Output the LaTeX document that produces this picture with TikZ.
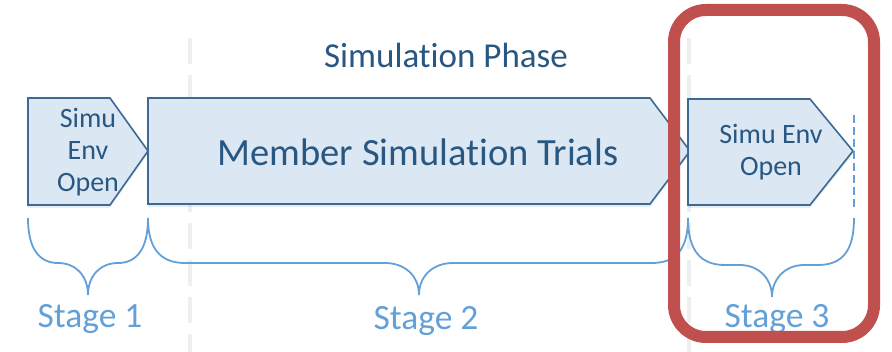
\documentclass[tikz,border=0pt]{standalone}
\usepackage{fontspec}
\setmainfont[Ligatures={NoCommon,NoContextual}]{Carlito}
\usetikzlibrary{shadows}
\definecolor{boxfill}{HTML}{DCE7F4}
\definecolor{boxline}{HTML}{3D6993}
\definecolor{boxtext}{HTML}{285781}
\definecolor{stageblue}{HTML}{64A0D8}
\definecolor{redframe}{HTML}{C0504D}
\definecolor{guidegray}{HTML}{EEEFF2}
\tikzset{
  stepbox/.style={fill=boxfill, draw=boxline, line width=1.6pt, line join=miter,
    drop shadow={shadow xshift=0pt, shadow yshift=-3pt, opacity=0.12, fill=boxline}},
  bracepath/.style={draw=stageblue, line width=1.8pt},
  stagelabel/.style={text=stageblue, font=\fontsize{35.5}{38}\selectfont, anchor=base},
  boxlabel/.style={text=boxtext, align=center, font=\fontsize{28}{32}\selectfont},
  guide/.style={draw=guidegray, line width=4pt, dash pattern=on 26pt off 11pt},
}
\begin{document}
\begin{tikzpicture}[x=1pt,y=-1pt]
\useasboundingbox (0,0) rectangle (892,352);
% guides
\coordinate (g1top) at (190,38); \coordinate (g1bot) at (190,352);
\coordinate (g2top) at (689,38); \coordinate (g2bot) at (689,352);
\draw[guide] (g1top) -- (g1bot);
\draw[guide] (g2top) -- (g2bot);
% boxes
\draw[stepbox] (28,98) -- (110,98) -- (148,151) -- (110,205) -- (28,205) -- cycle;
\draw[stepbox] (148,98) -- (650,98) -- (690,151) -- (650,204) -- (148,204) -- cycle;
\draw[stepbox] (688,99) -- (810,99) -- (853,151) -- (810,205) -- (688,205) -- cycle;
% dashed end line
\coordinate (dtop) at (854,115); \coordinate (dbot) at (854,210);
\draw[stageblue, line width=1.8pt, dash pattern=on 8pt off 4pt] (dtop) -- (dbot);
% texts in boxes
\node[boxlabel] (t1) at (88,152) {Simu\\Env\\Open};
\node[boxlabel] (t3) at (771,152) {Simu Env\\Open};
\node[text=boxtext, font=\fontsize{38.5}{40}\selectfont] (t2) at (418,152) {Member Simulation Trials};
\node[text=boxtext, font=\fontsize{35}{37}\selectfont, anchor=base] (phase) at (446,68) {Simulation Phase};
% braces
\draw[bracepath] (28,218) .. controls (28,250) and (40,263) .. (58,263) .. controls (76,263) and (88,276) .. (88,295) .. controls (88,276) and (100,263) .. (118,263) .. controls (136,263) and (148,250) .. (148,218);
\draw[bracepath] (148,218) .. controls (148,248) and (160,263) .. (185,263) -- (385,263) .. controls (405,263) and (419,276) .. (419,295) .. controls (419,276) and (433,263) .. (453,263) -- (652,263) .. controls (677,263) and (688,248) .. (688,218);
\draw[bracepath] (688,218) .. controls (688,250) and (700,265) .. (725,265) -- (740,265) .. controls (758,265) and (772,278) .. (772,297) .. controls (772,278) and (786,265) .. (804,265) -- (818,265) .. controls (843,265) and (854,250) .. (854,218);
% stage labels
\node[stagelabel] (s1) at (90,328) {Stage 1};
\node[stagelabel] (s2) at (426,330) {Stage 2};
\node[stagelabel] (s3) at (777,328) {Stage 3};
% red frame
\draw[redframe, line width=12pt, rounded corners=32pt] (674,10) rectangle (874,337);
\end{tikzpicture}
\end{document}
